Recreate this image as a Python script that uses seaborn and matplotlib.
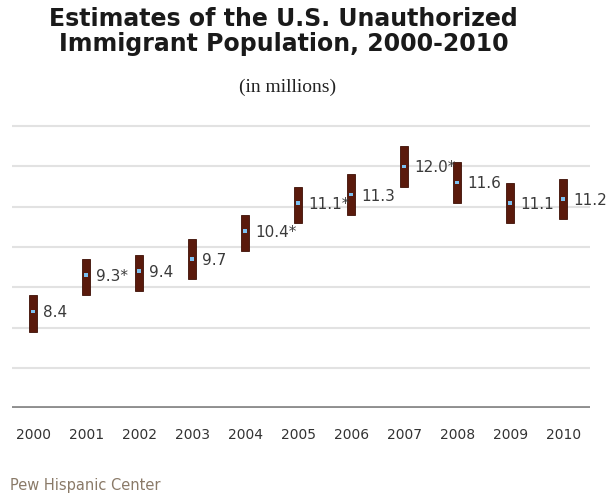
import numpy as np
import pandas as pd
import matplotlib
matplotlib.use("Agg")
import matplotlib.pyplot as plt
import seaborn as sns

# Estimates (millions) with range shown as bar
years = ["2000", "2001", "2002", "2003", "2004", "2005", "2006", "2007", "2008", "2009", "2010"]
estimates = [8.4, 9.3, 9.4, 9.7, 10.4, 11.1, 11.3, 12.0, 11.6, 11.1, 11.2]
lows = [7.9, 8.8, 8.9, 9.2, 9.9, 10.6, 10.8, 11.5, 11.1, 10.6, 10.7]
highs = [8.8, 9.7, 9.8, 10.2, 10.8, 11.5, 11.8, 12.5, 12.1, 11.6, 11.7]
labels = ["8.4", "9.3*", "9.4", "9.7", "10.4*", "11.1*", "11.3", "12.0*", "11.6", "11.1", "11.2"]
grid_values = [7, 8, 9, 10, 11, 12, 13]

df = pd.DataFrame({"year": years, "est": estimates, "low": lows, "high": highs, "label": labels})
df["pos"] = np.arange(len(df))

sns.set_style("white")
fig = plt.figure(figsize=(6.12, 4.96), dpi=100)
ax = fig.add_axes([0.0196, 0.177, 0.944, 0.589])

# light gridlines
for g in grid_values:
    ax.axhline(g, color="#e2e2e2", linewidth=1.5, zorder=0)
ax.axhline(6, color="#8f8f8f", linewidth=2.8, zorder=1)

# range bars
ax.bar(df["pos"], df["high"] - df["low"], bottom=df["low"], width=0.16,
       color="#5a1a0c", edgecolor="#3e0f05", linewidth=0.6, zorder=2)

# estimate markers
sns.scatterplot(data=df, x="pos", y="est", marker="s", s=7, color="#7cc0f0",
                edgecolor="none", zorder=3, ax=ax, legend=False)

for _, r in df.iterrows():
    ax.annotate(r["label"], (r["pos"], r["est"]), xytext=(7, -1), textcoords="offset points",
                ha="left", va="center", fontsize=11, color="#3a3a3a", family="DejaVu Sans")

ax.set_xlim(-0.4, 10.5)
ax.set_ylim(6, 13.25)
ax.set_xticks(df["pos"])
ax.set_xticklabels(years, fontsize=10, color="#333333")
ax.tick_params(axis="x", length=0, pad=14)
ax.set_yticks([])
ax.set_xlabel("")
ax.set_ylabel("")
sns.despine(ax=ax, left=True, bottom=True)

fig.text(0.463, 0.985, "Estimates of the U.S. Unauthorized\nImmigrant Population, 2000-2010",
         ha="center", va="top", fontsize=17, fontweight="bold", color="#1a1a1a",
         family="DejaVu Sans", linespacing=1.05)
fig.text(0.47, 0.823, "(in millions)", ha="center", va="center", fontsize=14,
         color="#222222", family="Liberation Serif")
fig.text(0.016, 0.022, "Pew Hispanic Center", ha="left", va="center", fontsize=10.5,
         color="#8a7a68", family="DejaVu Sans")

fig.savefig("out.png", dpi=100)
